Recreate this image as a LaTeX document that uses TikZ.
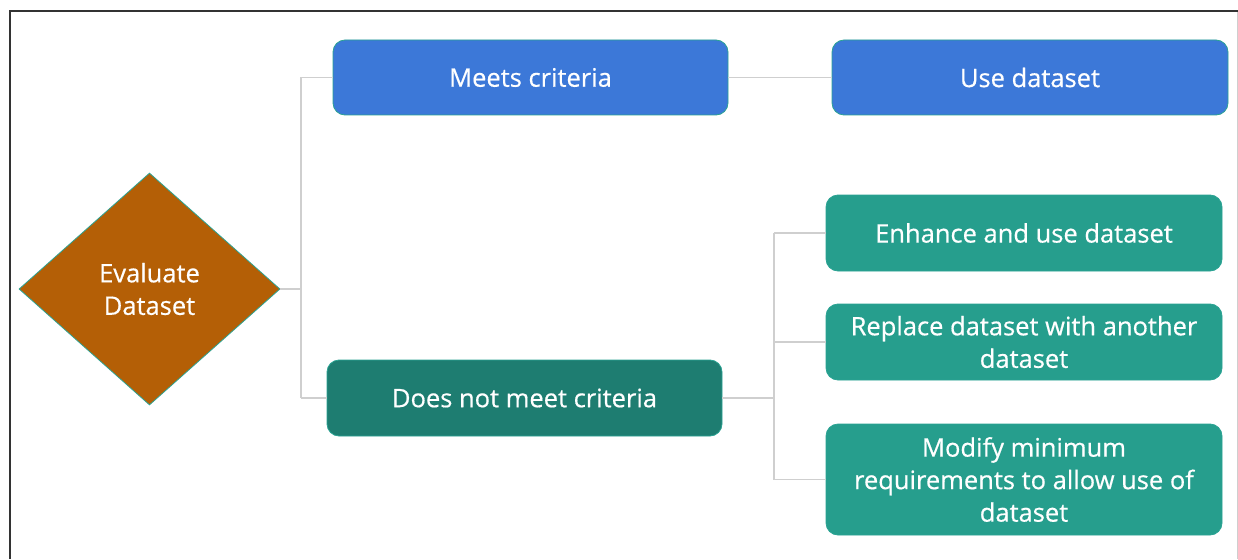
\documentclass[tikz,border=0pt]{standalone}
\usepackage{fontspec}
\setmainfont{Open Sans}[FakeBold=0.5]
\usetikzlibrary{shapes.geometric}
\definecolor{bluebox}{HTML}{3C78D8}
\definecolor{darkteal}{HTML}{1E7D71}
\definecolor{lightteal}{HTML}{269E8D}
\definecolor{orangebox}{HTML}{B45F06}
\definecolor{edgeteal}{HTML}{2AA393}
\definecolor{linegray}{HTML}{CFCFCF}
\begin{document}
\begin{tikzpicture}[x=1pt,y=-1pt,
  box/.style={draw=edgeteal, line width=0.8pt, rounded corners=12pt, text=white,
    font=\fontsize{25.5}{32.5}\selectfont, align=center, inner sep=0pt},
  conn/.style={draw=linegray, line width=1.3pt}]
\useasboundingbox (0,0) rectangle (1238,559);
\fill[white] (0,0) rectangle (1238,559);
% frame
\draw[linegray, line width=1pt] (1237,11) -- (1237,559);
\draw[black!80, line width=2.2pt] (10,559) -- (10,11) -- (1238,11);
% nodes
\node[diamond, draw=edgeteal, line width=0.8pt, fill=orangebox, minimum width=261pt, minimum height=232pt, inner sep=0pt, text=white, align=center, font=\fontsize{25.5}{32.5}\selectfont] (eval) at (149.5,289) {Evaluate\\Dataset};
\node[box, fill=bluebox, minimum width=395pt, minimum height=75pt] (meets) at (530.5,77.5) {Meets criteria};
\node[box, fill=bluebox, minimum width=396pt, minimum height=75pt] (use) at (1030,77.5) {Use dataset};
\node[box, fill=darkteal, minimum width=395pt, minimum height=76pt] (notmeet) at (524.5,398) {Does not meet criteria};
\node[box, fill=lightteal, minimum width=396pt, minimum height=76pt] (enh) at (1024,233) {Enhance and use dataset};
\node[box, fill=lightteal, minimum width=396pt, minimum height=76pt] (repl) at (1024,342) {Replace dataset with another\\dataset};
\node[box, fill=lightteal, minimum width=396pt, minimum height=111pt] (mod) at (1024,479.5) {Modify minimum\\requirements to allow use of\\dataset};
% connectors
\coordinate (j1) at (301,289);
\coordinate (j2) at (774,398);
\draw[conn] (eval.east) -- (j1);
\draw[conn] (j1 |- meets.west) -- (j1 |- notmeet.west);
\draw[conn] (j1 |- meets.west) -- (meets.west);
\draw[conn] (j1 |- notmeet.west) -- (notmeet.west);
\draw[conn] (meets.east) -- (use.west);
\draw[conn] (notmeet.east) -- (j2);
\draw[conn] (j2 |- enh.west) -- (j2 |- mod.west);
\draw[conn] (j2 |- enh.west) -- (enh.west);
\draw[conn] (j2 |- repl.west) -- (repl.west);
\draw[conn] (j2 |- mod.west) -- (mod.west);
\end{tikzpicture}
\end{document}
